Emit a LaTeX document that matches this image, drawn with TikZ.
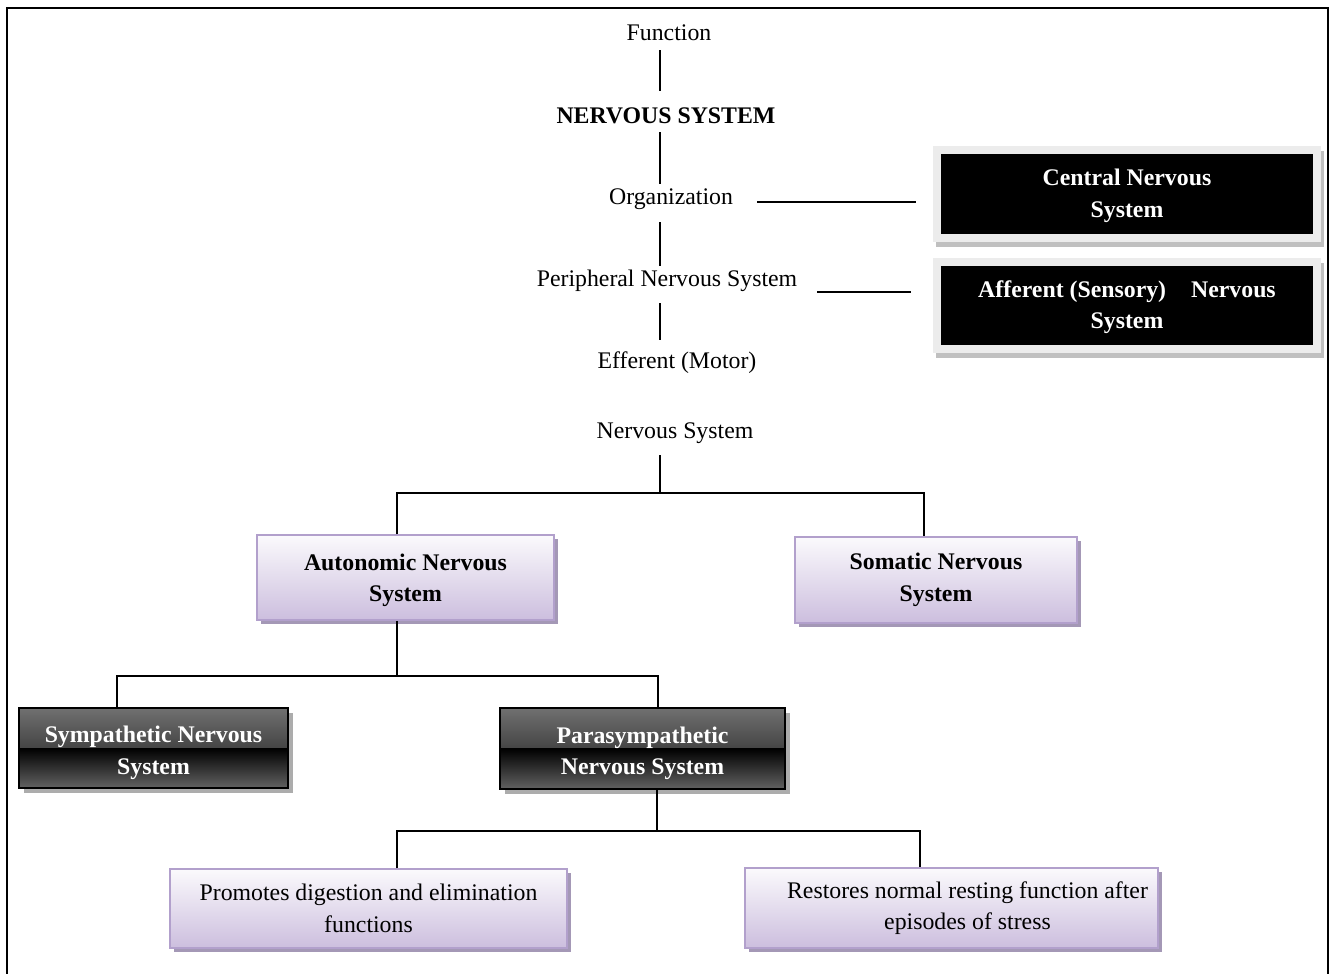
\documentclass[tikz,border=0pt]{standalone}
\usepackage{fontspec}
\setmainfont{Liberation Serif}
\usepackage{tikz}
\usetikzlibrary{positioning,shadows}
\usepackage{xcolor}
\definecolor{lavline}{RGB}{178,160,204}
\definecolor{lavdark}{RGB}{204,190,222}
\definecolor{lavshade}{RGB}{164,152,182}
\definecolor{frameg}{RGB}{236,236,236}
\definecolor{shadeg}{RGB}{192,192,192}
\definecolor{glosstop}{RGB}{112,112,112}
\definecolor{glossbot}{RGB}{98,98,98}
\newcommand{\diagfont}{\fontsize{23.8}{31.5}\selectfont}

\begin{document}
\begin{tikzpicture}[x=1pt,y=-1pt,
  lbl/.style={font=\diagfont, inner sep=0pt, inner ysep=4pt, text height=16pt, text depth=5pt, anchor=base},
  link/.style={line width=1.6pt},
  blackbox/.style={font=\diagfont\bfseries, text=white, fill=black, draw=frameg, line width=8pt,
    align=center, inner sep=0pt, text height=52pt,
    drop shadow={shadow xshift=3pt, shadow yshift=-5pt, fill=shadeg, draw=shadeg, line width=8pt, opacity=1}},
  lavbox/.style={font=\diagfont, draw=lavline, line width=1.5pt, top color=lavdark!8, bottom color=lavdark,
    align=center, inner sep=0pt,
    drop shadow={shadow xshift=4pt, shadow yshift=-4pt, fill=lavshade, opacity=1}},
  darkbox/.style={font=\diagfont\bfseries, text=white, draw=black, line width=2pt, align=center, inner sep=0pt,
    text height=58pt,
    path picture={
      \shade[top color=glosstop, bottom color=black!90] (path picture bounding box.north west) rectangle (path picture bounding box.east);
      \shade[top color=black, bottom color=glossbot] (path picture bounding box.west) rectangle (path picture bounding box.south east);
    },
    drop shadow={shadow xshift=5pt, shadow yshift=-5pt, fill=gray!65, opacity=1}}
]
\useasboundingbox (0,0) rectangle (1330,974);
% outer frame (bottom edge falls off the page)
\draw[line width=2pt] (7,980) -- (7,8) -- (1327.5,8) -- (1327.5,980);
\coordinate (stem) at (660,0);
% top column
\node[lbl] (fn) at (669,41) {Function};
\node[lbl, font=\diagfont\bfseries] (nsys) at (666,123) {NERVOUS SYSTEM};
\node[lbl] (org) at (671,204) {Organization};
\node[lbl] (pns) at (667,286) {Peripheral Nervous System};
\node[lbl] (eff) at (677,368) {Efferent (Motor)};
\node[lbl] (ns) at (675,438) {Nervous System};
% black boxes on the right
\node[blackbox, minimum width=379.5pt, minimum height=87.5pt] (cns) at (1127,194) {Central Nervous\\System};
\node[blackbox, minimum width=379.5pt, minimum height=87pt] (aff) at (1127,305.5) {Afferent (Sensory)\hspace{0.8em} Nervous\\System};
% tree boxes
\node[lavbox, font=\diagfont\bfseries, text height=54pt, minimum width=297pt, minimum height=85pt] (auto) at (405.5,577.5) {Autonomic Nervous\\System};
\node[lavbox, font=\diagfont\bfseries, minimum width=282pt, minimum height=86pt] (soma) at (936,580) {Somatic Nervous\\System};
\node[darkbox, minimum width=269pt, minimum height=80pt] (symp) at (153.5,748) {Sympathetic Nervous\\System};
\node[darkbox, minimum width=285pt, minimum height=81pt] (para) at (642.5,748.5) {Parasympathetic\\Nervous System};
\node[lavbox, minimum width=397pt, minimum height=79pt] (prom) at (368.5,908.5) {Promotes digestion and elimination\\functions};
\node[lavbox, minimum width=413pt, minimum height=80pt] (rest) at (951.5,908) {\hspace*{32pt}Restores normal resting function after\\\hspace*{32pt}episodes of stress};
% column links
\draw[link, shorten >=12pt] (fn.south -| stem) -- (nsys.north -| stem);
\draw[link] (nsys.south -| stem) -- (org.north -| stem);
\draw[link, shorten <=9pt] (org.south -| stem) -- (pns.north -| stem);
\draw[link, shorten <=8pt, shorten >=8pt] (pns.south -| stem) -- (eff.north -| stem);
\coordinate (orgend) at ([yshift=2pt]org.base east);
\coordinate (pnsend) at ([yshift=-6pt]pns.base east);
\draw[link, shorten <=24pt, shorten >=17pt] (orgend) -- (orgend -| cns.west);
\draw[link, shorten <=20pt, shorten >=22pt] (pnsend) -- (pnsend -| aff.west);
% tree links
\coordinate (bus1) at (660,493);
\draw[link, shorten <=8pt] (ns.south -| stem) -- (bus1);
\draw[link] ([xshift=-8.5pt]auto.north) |- (bus1) -| ([xshift=-12pt]soma.north);
\draw[link] ([xshift=-8.5pt]auto.south) -- ++(0,55) coordinate (bus2);
\draw[link] ([xshift=-36.5pt]symp.north) |- (bus2) -| ([xshift=15.5pt]para.north);
\draw[link] ([xshift=14.5pt]para.south) -- ++(0,41) coordinate (bus3);
\draw[link] ([xshift=28.5pt]prom.north) |- (bus3) -| ([xshift=-31.5pt]rest.north);
\end{tikzpicture}
\end{document}
